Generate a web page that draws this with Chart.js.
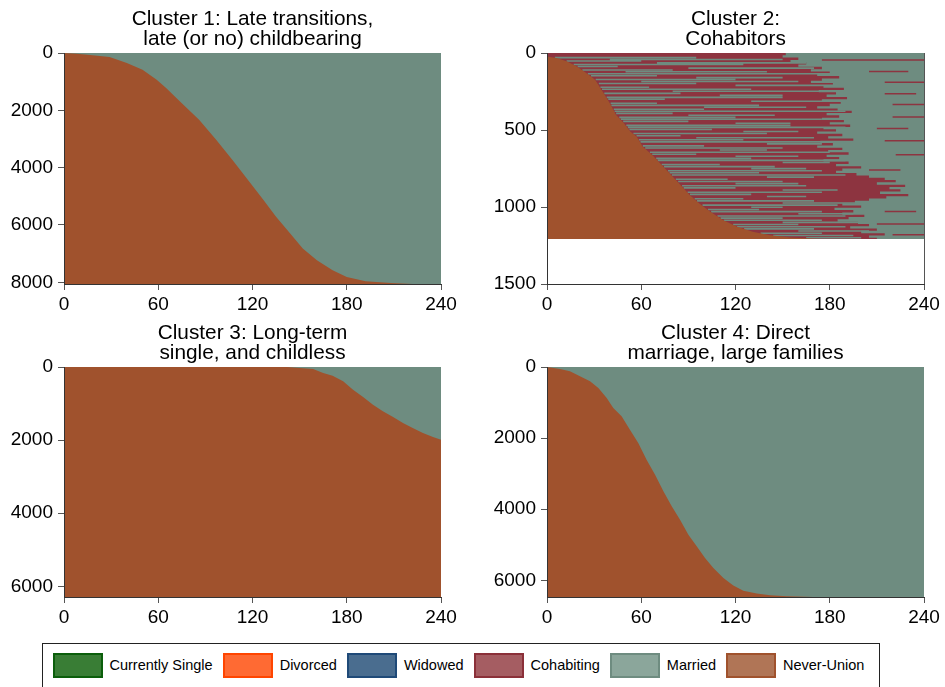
<!DOCTYPE html>
<html>
<head>
<meta charset="utf-8">
<script src="https://cdn.jsdelivr.net/npm/chart.js@4.4.0/dist/chart.umd.min.js"></script>
<style>
html,body{margin:0;padding:0;background:#fff;width:945px;height:687px;overflow:hidden;font-family:"Liberation Sans",Arial,sans-serif;}
canvas{position:absolute;}
#legend{position:absolute;left:42px;top:643px;width:838px;height:70px;border:1.5px solid #222;box-sizing:border-box;}
#items{position:absolute;left:9.5px;top:8.5px;display:flex;align-items:center;white-space:nowrap;}
.item{display:flex;align-items:center;margin-right:10px;}
.sw{width:50px;height:25px;box-sizing:border-box;border:2px solid;margin-right:7px;}
.lab{font-size:14.5px;color:#000;line-height:25px;}
</style>
</head>
<body>
<canvas id="c1" width="461" height="314" style="left:0;top:0"></canvas>
<canvas id="c2" width="461" height="314" style="left:483px;top:0"></canvas>
<canvas id="c3" width="461" height="313" style="left:0;top:314px"></canvas>
<canvas id="c4" width="461" height="313" style="left:483px;top:314px"></canvas>
<div id="legend"><div id="items"></div></div>
<script>
// ---------------- DATA ----------------
const xTicks = [0, 60, 120, 180, 240];

// Cluster 1: end of the Never-Union spell (months) by sequence index
const c1Title = ['Cluster 1: Late transitions,', 'late (or no) childbearing'];
const c1N = 8060;
const c1YTicks = [0, 2000, 4000, 6000, 8000];
const c1Seq    = [0, 30, 58, 140, 350, 583, 933, 1224, 1750, 2332, 3032, 3790, 4490, 5131, 5714, 6297, 6822, 7230, 7580, 7813, 7965, 8023, 8060];
const c1Months = [0, 8, 15, 29, 40, 50, 59, 65, 75, 86, 97, 108, 118, 127, 135, 144, 152, 161, 171, 180, 192, 208, 222];

// Cluster 2
const c2Title = ['Cluster 2:', 'Cohabitors'];
const c2N = 1207;
const c2YMax = 1500;
const c2YTicks = [0, 500, 1000, 1500];
const c2Seq    = [22, 33, 54, 87, 130, 174, 260, 326, 402, 456, 510, 543, 608, 662, 716, 781, 857, 923, 977, 1031, 1085, 1129, 1161, 1183, 1198, 1207];
const c2Months = [0, 6, 12.5, 19, 25, 30.6, 36, 40, 44, 49, 53, 57, 61, 67, 72, 78, 85, 91, 97, 104, 112, 121, 131, 142, 155, 174];
// month from which Married dominates (right-hand block), by band of sequences
const c2MarriedBlockSeq = [0, 15, 30, 45, 60, 75, 90, 105, 120, 135, 150, 165, 180, 195, 210, 225, 240, 255, 270, 285, 300,
  315, 330, 345, 360, 375, 390, 405, 420, 435, 450, 465, 480, 495, 510, 525, 540, 555, 570, 585, 600,
  615, 630, 645, 660, 675, 690, 705, 720, 735, 750, 765, 780, 795, 810, 825, 840, 855, 870, 885, 900,
  915, 930, 945, 960, 975, 990, 1005, 1020, 1035, 1050, 1065, 1080, 1095, 1110, 1125, 1140, 1155, 1170, 1185, 1200, 1207];
const c2MarriedBlockMonths = [152, 152, 150, 160, 155, 165, 160, 175, 168, 180, 172, 186, 175, 168, 182, 176, 189, 173, 184, 178, 191,
  175, 187, 180, 172, 185, 194, 178, 186, 175, 189, 180, 193, 176, 184, 172, 188, 179, 195, 174, 182,
  172, 188, 179, 192, 178, 186, 176, 192, 184, 200, 188, 184, 197, 205, 215, 222, 210, 228, 218, 225,
  212, 230, 216, 205, 196, 188, 200, 183, 195, 188, 202, 192, 185, 198, 205, 193, 210, 200, 215, 205, 210];
// married spells inside the cohabiting area: [sequence, start month, end month]
const c2MarriedSpells = [
  [30,5,95],[42,40,150],[52,12.5,60],[64,70,165],[75,17,125],[88,19.5,45],[98,90,170],[110,22.5,80],[122,50,140],[135,26,190],
  [148,28,70],[160,95,150],[172,31,120],[185,60,160],[198,33,95],[210,120,190],[222,34,65],[235,35,130],[248,80,175],
  [262,36.5,85],[275,110,150],[288,38,150],[300,39,75],[313,130,190],[326,40.5,70],[340,41,135],[352,100,165],[365,42.5,100],
  [378,43,190],[392,44,80],[404,90,145],[418,46,120],[430,47,175],[444,48.5,90],[456,120,155],[470,50.5,155],[483,51.5,190],
  [497,52.5,105],[510,125,160],[523,55,140],[537,57,85],[550,95,170],[563,58.5,125],[577,59.5,190],[590,140,175],[603,61,100],
  [617,62.5,150],[630,110,140],[644,65.5,180],[657,67,95],[670,120,160],[684,69.5,130],[697,70.5,190],[711,150,180],[724,73,110],
  [738,74.5,145],[751,130,165],[765,77,175],[778,78,135],[792,79.5,190],[806,140,170],[820,82,115],[834,83.5,150],[848,120,160],
  [862,86,165],[876,87,120],[890,150,185],[904,89.5,175],[918,91,130],[932,140,165],[946,94,125],[960,95.5,170],[974,150,200],
  [988,99,185],[1002,130,150],[1016,102.5,135],[1030,104.5,175],[1044,160,195],[1058,108.5,190],[1072,110.5,150],
  [1086,112.5,175],[1100,150,210],[1114,118.5,160],[1128,121,190],[1142,125.5,170],[1156,160,205],[1170,136,175],[1185,144,195],[1200,165,200]
];
// cohabiting spells inside the married block
const c2CohabSpells = [
  [45,175,240],[120,205,230],[190,215,240],[265,215,235],[335,220,240],[415,220,240],[490,210,230],
  [570,215,240],[660,222,240],[760,205,225],[1030,215,235],[1110,210,240],[1180,220,240]
];

// Cluster 3
const c3Title = ['Cluster 3: Long-term', 'single, and childless'];
const c3N = 6290;
const c3YTicks = [0, 2000, 4000, 6000];
const c3Seq    = [0, 27, 55, 164, 237, 392, 620, 820, 1030, 1213, 1368, 1532, 1669, 1805, 1915, 1988, 6290];
const c3Months = [142, 150, 158.6, 165, 171, 177.7, 184, 190.4, 196.7, 203, 209.5, 215.8, 222, 228.5, 234.9, 240, 240];

// Cluster 4
const c4Title = ['Cluster 4: Direct', 'marriage, large families'];
const c4N = 6470;
const c4YTicks = [0, 2000, 4000, 6000];
const c4Seq    = [0, 56, 122, 262, 403, 590, 872, 1153, 1388, 1762, 2138, 2606, 3028, 3497, 3919, 4294, 4716, 5044, 5372, 5653, 5934, 6150, 6291, 6375, 6422, 6450, 6469, 6470];
const c4Months = [0, 8.3, 14.6, 21, 27.4, 32.7, 38, 42.2, 47.5, 52.8, 58.1, 63.4, 68.8, 74.1, 79.4, 84.7, 90, 95.3, 100.6, 105.9, 112.3, 118.6, 125, 133.5, 142, 152.6, 169.5, 193];

// Legend
const legendLabels = ['Currently Single', 'Divorced', 'Widowed', 'Cohabiting', 'Married', 'Never-Union'];
const legendFill   = ['#397d35', '#ff6a33', '#4a6d8f', '#a55d62', '#8ba69b', '#b07556'];
const legendBorder = ['#0b5e0b', '#ff4500', '#1f4a78', '#8b3039', '#6e8c80', '#a0522d'];

// ---------------- STYLE ----------------
const FONT = '"Liberation Sans", Arial, sans-serif';
const COL_NEVER = '#a0522d';
const COL_MARRIED = '#6e8c80';
const COL_COHAB = '#8d3440';
Chart.defaults.font.family = FONT;

const pts = (months, seqs) => months.map((m, i) => ({x: m, y: seqs[i]}));
const spells = list => {
  const out = [];
  list.forEach(([s, a, b]) => { out.push({x: a, y: s}, {x: b, y: s}, {x: null, y: s}); });
  return out;
};
const area = (data, color, toValue, stepped) => ({
  data, backgroundColor: color, borderColor: 'rgba(0,0,0,0)', borderWidth: 0,
  pointRadius: 0, fill: {value: toValue}, tension: 0, stepped: !!stepped
});
const lines = (data, color, w) => ({
  data, borderColor: color, borderWidth: w, pointRadius: 0, fill: false,
  spanGaps: false, tension: 0, borderCapStyle: 'butt'
});

function makePanel(id, title, datasets, yMax, yTicks, showRightEdge) {
  new Chart(document.getElementById(id), {
    type: 'line',
    data: {datasets},
    options: {
      indexAxis: 'y',
      responsive: false,
      animation: false,
      events: [],
      layout: {padding: {left: 0, right: 20, top: 0, bottom: 0}},
      plugins: {
        legend: {display: false},
        tooltip: {enabled: false},
        title: {
          display: true, text: title, color: '#000', fullSize: false,
          font: {family: FONT, size: 20.8, weight: 'normal', lineHeight: '20px'},
          padding: {top: 8.8, bottom: 4.2}
        }
      },
      scales: {
        x: {
          type: 'linear', position: 'bottom', min: 0, max: 240,
          afterBuildTicks: s => { s.ticks = xTicks.map(v => ({value: v})); },
          afterFit: s => { s.height = 30; },
          ticks: {color: '#000', font: {family: FONT, size: 19}, padding: 3, maxRotation: 0, autoSkip: false,
                  callback: v => String(v)},
          grid: {
            drawOnChartArea: showRightEdge,
            color: c => (c.tick && c.tick.value === 240) ? '#555' : 'rgba(0,0,0,0)',
            tickColor: '#555', tickLength: 6, lineWidth: 1
          },
          border: {display: true, color: '#333', width: 1}
        },
        y: {
          type: 'linear', position: 'left', reverse: true, min: 0, max: yMax,
          afterBuildTicks: s => { s.ticks = yTicks.map(v => ({value: v})); },
          afterFit: s => { s.width = 64; },
          ticks: {color: '#000', font: {family: FONT, size: 19}, padding: 5, autoSkip: false,
                  callback: v => String(v)},
          grid: {drawOnChartArea: false, tickColor: '#555', tickLength: 6, z: 1},
          border: {display: true, color: '#333', width: 1, z: 1}
        }
      }
    }
  });
}

// Panel 1
makePanel('c1', c1Title, [
  area(pts(c1Months, c1Seq), COL_NEVER, 0),
  area(pts([240, 240], [0, c1N]), COL_MARRIED, 0)
], c1N, c1YTicks, false);

// Panel 2
makePanel('c2', c2Title, [
  area(pts(c2Months, c2Seq), COL_NEVER, 0),
  lines(spells(c2CohabSpells), COL_COHAB, 1.5),
  lines(spells(c2MarriedSpells), COL_MARRIED, 1.6),
  area(pts(c2MarriedBlockMonths, c2MarriedBlockSeq), COL_MARRIED, 240, true),
  area(pts([240, 240], [0, c2N]), COL_COHAB, 0)
], c2YMax, c2YTicks, true);

// Panel 3
makePanel('c3', c3Title, [
  area(pts(c3Months, c3Seq), COL_NEVER, 0),
  area(pts([240, 240], [0, c3N]), COL_MARRIED, 0)
], c3N, c3YTicks, false);

// Panel 4
makePanel('c4', c4Title, [
  area(pts(c4Months, c4Seq), COL_NEVER, 0),
  area(pts([240, 240], [0, c4N]), COL_MARRIED, 0)
], c4N, c4YTicks, false);

// Legend
const items = document.getElementById('items');
legendLabels.forEach((lab, i) => {
  const it = document.createElement('div'); it.className = 'item';
  const sw = document.createElement('div'); sw.className = 'sw';
  sw.style.background = legendFill[i]; sw.style.borderColor = legendBorder[i];
  const t = document.createElement('span'); t.className = 'lab'; t.textContent = lab;
  it.appendChild(sw); it.appendChild(t); items.appendChild(it);
});
</script>
</body>
</html>
